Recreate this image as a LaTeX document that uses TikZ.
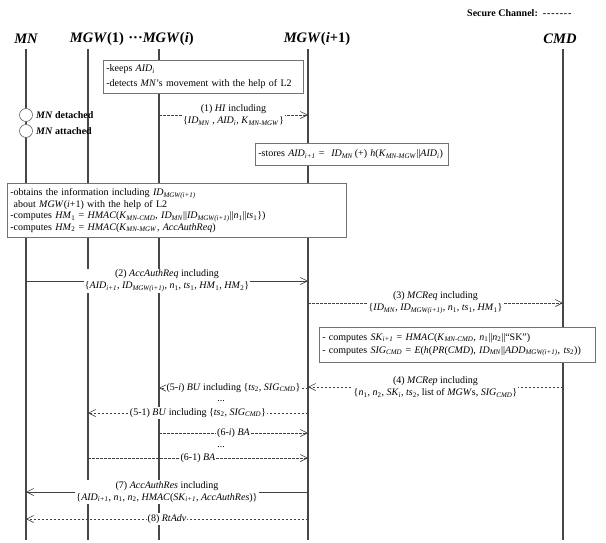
\documentclass[tikz,border=0pt]{standalone}
\usepackage{fontspec}
\setmainfont{Liberation Serif}
\usetikzlibrary{arrows.meta}
\newcommand{\vi}[1]{\textit{#1}}
\newcommand{\sbs}[1]{\textsubscript{\textit{#1}}}
\newcommand{\sbn}[1]{\textsubscript{#1}}
\newcommand{\hy}{-\kern0.9pt}
\begin{document}
\begin{tikzpicture}[x=1pt,y=-1pt,
 life/.style={draw=black!72, line width=1.1pt},
 hdr/.style={font=\fontsize{14.5}{17}\selectfont\bfseries\itshape, inner sep=0pt},
 note/.style={draw=black!55, fill=white, line width=0.6pt, anchor=north west, align=left, inner sep=3pt},
 msg/.style={draw=black!75, line width=0.6pt, -{Straight Barb[length=7pt,width=7pt]}},
 sec/.style={msg, dash pattern=on 2.5pt off 1.5pt},
 lbl/.style={fill=white, inner sep=1pt, align=center, font=\fontsize{10}{12}\selectfont},
 state/.style={circle, draw=black!60, fill=white, line width=0.6pt, minimum size=13pt, inner sep=0pt},
 stxt/.style={anchor=west, inner sep=0pt, font=\fontsize{10}{12}\selectfont\bfseries},
]
\useasboundingbox (0,0) rectangle (606,542);
\fill[white] (0,0) rectangle (606,542);

% secure channel legend
\node[stxt] (sc) at (467,13) {Secure Channel:\ \ \hy\hy\hy\hy\hy\hy-};

% headers
\node[hdr] (hMN) at (26,39) {MN};
\node[hdr] (hMGW1) at (97,39) {MGW\textup{(1)}};
\node[hdr] (hMGWi) at (161,39) {\textup{···}MGW\textup{(}i\textup{)}};
\node[hdr] (hMGWp) at (317,39) {MGW\textup{(}i\textup{+1)}};
\node[hdr] (hCMD) at (560,39) {CMD};

% lifelines
\coordinate (lMN) at (26,49);   \coordinate (bMN) at (26,540);
\coordinate (lMGW1) at (88,49); \coordinate (bMGW1) at (88,540);
\coordinate (lMGWi) at (159,49); \coordinate (bMGWi) at (159,540);
\coordinate (lMGWp) at (308,49); \coordinate (bMGWp) at (308,540);
\coordinate (lCMD) at (563,49); \coordinate (bCMD) at (563,540);
\draw[life] (lMN) -- (bMN);
\draw[life] (lMGW1) -- (bMGW1);
\draw[life] (lMGWi) -- (bMGWi);
\draw[life] (lMGWp) -- (bMGWp);
\draw[life] (lCMD) -- (bCMD);

% notes
\node[note, text width=194pt, minimum height=33pt, font=\fontsize{10}{15}\selectfont] (keep) at (103,60)
 {-keeps \vi{AID}\sbs{i}\\-detects \vi{MN}'s movement with the help of L2};

\node[state] (det) at (26,115) {};
\node[state] (att) at (26,131) {};
\node[stxt] (tdet) at (36,115) {\textit{MN} detached};
\node[stxt] (tatt) at (36,131) {\textit{MN} attached};

\draw[sec] (lMGWi |- 0,115) -- (lMGWp |- 0,115)
 node[lbl, midway] (m1) {(1) \vi{HI} including\\\{\vi{ID}\sbs{MN} , \vi{AID}\sbs{i}, \vi{K}\sbs{MN-MGW}\}};

\node[note, text width=187pt, minimum height=22pt, font=\fontsize{10}{12}\selectfont] (stores) at (255,143)
 {-stores \vi{AID}\sbs{i+1} = \ \vi{ID}\sbs{MN}\,(+) \vi{h}(\vi{K}\sbs{MN-MGW}||\vi{AID}\sbs{i})};

\node[note, text width=333pt, minimum height=54pt, font=\fontsize{10}{11.5}\selectfont] (obtain) at (7,183)
 {-obtains the information including \vi{ID}\sbs{MGW(i+1)}\\
 \ about \vi{MGW}(\vi{i}+1) with the help of L2\\
 -computes \vi{HM}\sbn{1} = \vi{HMAC}(\vi{K}\sbs{MN-CMD}, \vi{ID}\sbs{MN}||\vi{ID}\sbs{MGW(i+1)}||\vi{n}\sbn{1}||\vi{ts}\sbn{1}\})\\
 -computes \vi{HM}\sbn{2} = \vi{HMAC}(\vi{K}\sbs{MN-MGW}, \vi{AccAuthReq})};

\draw[msg] (lMN |- 0,281) -- (lMGWp |- 0,281)
 node[lbl, midway] (m2) {(2) \vi{AccAuthReq} including\\\{\vi{AID}\sbs{i+1}, \vi{ID}\sbs{MGW(i+1)}, \vi{n}\sbn{1}, \vi{ts}\sbn{1}, \vi{HM}\sbn{1}, \vi{HM}\sbn{2}\}};

\draw[sec] (lMGWp |- 0,303) -- (lCMD |- 0,303)
 node[lbl, midway] (m3) {(3) \vi{MCReq} including\\\{\vi{ID}\sbs{MN}, \vi{ID}\sbs{MGW(i+1)}, \vi{n}\sbn{1}, \vi{ts}\sbn{1}, \vi{HM}\sbn{1}\}};

\node[note, text width=270pt, minimum height=35pt, font=\fontsize{10}{13}\selectfont] (sk) at (319,327)
 {- computes \vi{SK}\sbs{i+1} = \vi{HMAC}(\vi{K}\sbs{MN-CMD}, \vi{n}\sbn{1}||\vi{n}\sbn{2}||``SK'')\\
 - computes \vi{SIG}\sbs{CMD} = \vi{E}(\vi{h}(\vi{PR}(\vi{CMD}), \vi{ID}\sbs{MN}||\vi{ADD}\sbs{MGW(i+1)}, \vi{ts}\sbn{2}))};

\draw[sec] (lCMD |- 0,387) -- (lMGWp |- 0,387)
 node[lbl, midway] (m4) {(4) \vi{MCRep} including\\\{\vi{n}\sbn{1}, \vi{n}\sbn{2}, \vi{SK}\sbs{i}, \vi{ts}\sbn{2}, list of \vi{MGW}s, \vi{SIG}\sbs{CMD}\}};

\draw[sec] (lMGWp |- 0,388) -- (lMGWi |- 0,388)
 node[lbl, midway] (m5i) {(5-\vi{i}) \vi{BU} including \{\vi{ts}\sbn{2}, \vi{SIG}\sbs{CMD}\}};
\node[lbl] (dots1) at (221,401) {...};
\draw[sec] (lMGWp |- 0,413) -- (lMGW1 |- 0,413)
 node[lbl, midway] (m51) {(5-1) \vi{BU} including \{\vi{ts}\sbn{2}, \vi{SIG}\sbs{CMD}\}};
\draw[sec] (lMGWi |- 0,433) -- (lMGWp |- 0,433)
 node[lbl, midway] (m6i) {(6-\vi{i}) \vi{BA}};
\node[lbl] (dots2) at (221,447) {...};
\draw[sec] (lMGW1 |- 0,458) -- (lMGWp |- 0,458)
 node[lbl, midway] (m61) {(6-1) \vi{BA}};

\draw[msg] (lMGWp |- 0,492) -- (lMN |- 0,492)
 node[lbl, midway] (m7) {(7) \vi{AccAuthRes} including\\\{\vi{AID}\sbs{i+1}, \vi{n}\sbn{1}, \vi{n}\sbn{2}, \vi{HMAC}(\vi{SK}\sbs{i+1}, \vi{AccAuthRes})\}};
\draw[sec] (lMGWp |- 0,519) -- (lMN |- 0,519)
 node[lbl, midway] (m8) {(8) \vi{RtAdv}};
\end{tikzpicture}
\end{document}
